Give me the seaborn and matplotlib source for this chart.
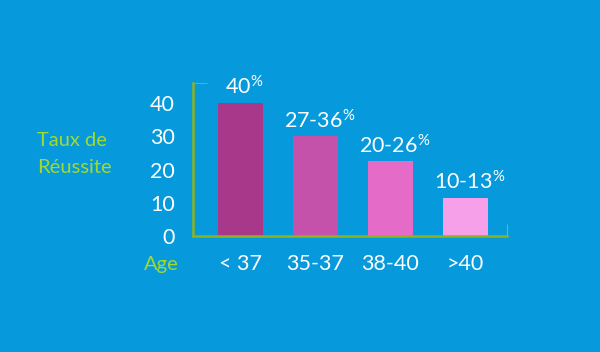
import matplotlib
matplotlib.use("Agg")
import matplotlib.pyplot as plt
import seaborn as sns
import pandas as pd

ages = ["< 37", "35-37", "38-40", ">40"]
rates = [40, 30, 22.5, 11.5]
bar_labels = ["40", "27-36", "20-26", "10-13"]
bar_colors = ["#A8388A", "#C452AA", "#E46CC8", "#F5A0E8"]
yticks = [0, 10, 20, 30, 40]

BG = "#069ADD"
GREEN_TXT = "#A2D92E"
GREEN_AX = "#8DB31E"
FONT = "Lato"

sns.set_theme(style="white")
plt.rcParams["font.family"] = [FONT, "DejaVu Sans"]
plt.rcParams["mathtext.fontset"] = "custom"
plt.rcParams["mathtext.rm"] = FONT
plt.rcParams["mathtext.it"] = FONT
plt.rcParams["mathtext.sf"] = FONT

df = pd.DataFrame({"Age": ages, "Taux": rates})

fig = plt.figure(figsize=(6, 3.52), dpi=100, facecolor=BG)
ax = fig.add_axes([0.3217, 0.3295, 0.845 - 0.3217, 0.764 - 0.3295])
ax.set_facecolor(BG)

sns.barplot(data=df, x="Age", y="Taux", hue="Age", palette=bar_colors,
            legend=False, width=0.6, saturation=1, linewidth=0,
            edgecolor="none", ax=ax)

ax.set_xlim(-0.627, 3.56)
ax.set_ylim(0, 46)
ax.set_yticks(yticks)
ax.set_yticklabels([str(t) for t in yticks], color="white", fontsize=15.5)
ax.set_xticks(range(len(ages)))
ax.set_xticklabels(ages, color="white", fontsize=15.5)
ax.tick_params(axis="y", length=0, pad=13)
ax.tick_params(axis="x", length=0, pad=13)
ax.set_xlabel("")
ax.set_ylabel("")

for s in ["top", "right"]:
    ax.spines[s].set_visible(False)
for s in ["left", "bottom"]:
    ax.spines[s].set_color(GREEN_AX)
    ax.spines[s].set_linewidth(1.8)

# faint end ticks of the frame
ax.plot([-0.627, -0.44], [46, 46], color="#9CCB50", lw=0.7, alpha=0.6,
        clip_on=False, solid_capstyle="butt")
ax.plot([3.56, 3.56], [0, 3.5], color="#9CCB50", lw=0.8, alpha=0.7,
        clip_on=False, solid_capstyle="butt")

for i, (v, lab) in enumerate(zip(rates, bar_labels)):
    ax.annotate(lab + r"$^{\%}$", (i, v), xytext=(3, 3), textcoords="offset points",
                ha="center", va="bottom", color="white", fontsize=15.5)

fig.text(0.062, 0.60, "Taux de", color=GREEN_TXT, fontsize=14.5, ha="left", va="center")
fig.text(0.062, 0.525, "Réussite", color=GREEN_TXT, fontsize=14.5, ha="left", va="center")
fig.text(0.297, 0.248, "Age", color=GREEN_TXT, fontsize=14.5, ha="right", va="center")

fig.savefig("out.png", dpi=100, facecolor=BG)
